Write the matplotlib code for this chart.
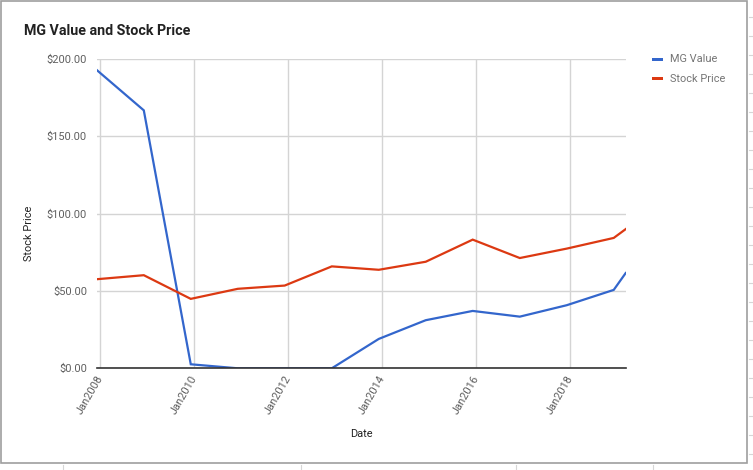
import matplotlib
matplotlib.use("Agg")
import matplotlib.pyplot as plt
from matplotlib.patches import Rectangle
from matplotlib.lines import Line2D
import pandas as pd

plt.rcParams['font.family'] = ['Roboto', 'DejaVu Sans']

dates = ["2007-12-03", "2008-12-03", "2009-12-03", "2010-12-03", "2011-12-03",
         "2012-12-03", "2013-12-03", "2014-12-03", "2015-12-03", "2016-12-03",
         "2017-12-03", "2018-12-03", "2019-03-06"]
mg_value = [192.9, 166.8, 2.6, 0.0, 0.0, 0.0, 19.0, 31.1, 37.1, 33.4, 40.8, 50.7, 61.6]
stock_price = [57.6, 60.2, 44.9, 51.4, 53.5, 65.9, 63.7, 68.9, 83.2, 71.3, 77.4, 84.3, 90.0]
y_ticks = [0, 50, 100, 150, 200]
y_tick_labels = ["$0.00", "$50.00", "$100.00", "$150.00", "$200.00"]
x_tick_dates = ["2008-01-01", "2010-01-01", "2012-01-01", "2014-01-01", "2016-01-01", "2018-01-01"]
x_tick_labels = ["Jan2008", "Jan2010", "Jan2012", "Jan2014", "Jan2016", "Jan2018"]
series_names = ["MG Value", "Stock Price"]
colors = ["#3366cc", "#dc3912"]

W, H = 753, 470
fig = plt.figure(figsize=(W / 100, H / 100), dpi=100)

def fx(px):
    return px / W

def fy(py):
    return 1 - py / H

x = pd.to_datetime(dates)
ax = fig.add_axes([fx(96.7), fy(368.3), fx(625.7) - fx(96.7), fy(59) - fy(368.3)])
ax.plot(x, mg_value, color=colors[0], lw=1.6, solid_joinstyle='miter', zorder=3)
ax.plot(x, stock_price, color=colors[1], lw=1.6, solid_joinstyle='miter', zorder=3)

ax.set_xlim(x[0], x[-1])
ax.set_ylim(0, 200)
ax.set_yticks(y_ticks)
ax.set_yticklabels(y_tick_labels)
ax.set_xticks(pd.to_datetime(x_tick_dates))
ax.set_xticklabels(x_tick_labels)
for s in ax.spines.values():
    s.set_visible(False)
ax.grid(True, color="#d4d4d4", lw=1.0, zorder=0)
ax.set_axisbelow(True)
ax.axhline(0, color="#333333", lw=1.2, zorder=4, clip_on=False)
ax.tick_params(axis='both', length=0, labelcolor="#5f5f5f", labelsize=7.9)
ax.tick_params(axis='y', pad=7)
ax.tick_params(axis='x', pad=6)
for lbl in ax.get_xticklabels():
    lbl.set_rotation(60)
    lbl.set_ha('right')
    lbl.set_va('center')
    lbl.set_rotation_mode('anchor')

# title
fig.text(fx(24), fy(31), "MG Value and Stock Price", fontsize=10.3, fontweight='bold',
         color="#222222", ha='left', va='center')
# axis titles
fig.text(fx(29), fy(233), "Stock Price", rotation=90, fontsize=7.9, color="#222222",
         ha='center', va='center')
fig.text(fx(361), fy(434), "Date", fontsize=7.9, color="#222222", ha='center', va='center')

# legend
for i, (name, c) in enumerate(zip(series_names, colors)):
    yc = 59.3 + i * 19.3
    fig.patches.append(Rectangle((fx(651.5), fy(yc + 1.8)), fx(663) - fx(651.5), 3.6 / H,
                                 transform=fig.transFigure, facecolor=c, edgecolor='none'))
    fig.text(fx(670), fy(yc), name, fontsize=7.9, color="#757575", ha='left', va='center')

# outer border
fig.patches.append(Rectangle((fx(0.5), fy(463.3)), fx(747.3) - fx(0.5), fy(0.5) - fy(463.3),
                             transform=fig.transFigure, facecolor='none',
                             edgecolor="#9e9e9e", lw=1.2))
# page artifacts outside the border
for k in range(24):
    yy = 17.3 + 19 * k
    fig.add_artist(Line2D([fx(748.5), fx(753)], [fy(yy), fy(yy)], color="#d6d6d6", lw=0.8))
for xx in [62.5, 301, 516, 653]:
    fig.add_artist(Line2D([fx(xx), fx(xx)], [fy(464.5), fy(470)], color="#d6d6d6", lw=0.8))

fig.savefig("out.png", dpi=100)
